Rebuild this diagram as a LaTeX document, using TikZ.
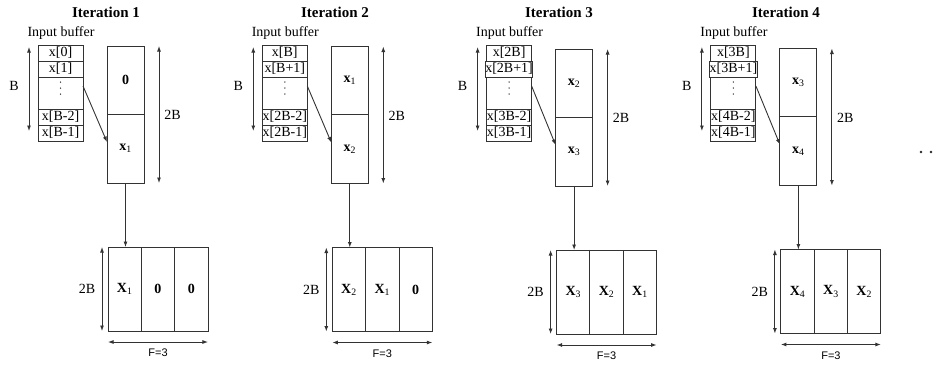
\documentclass[tikz,border=0pt]{standalone}
\usepackage{fontspec}
\setmainfont{Liberation Serif}
\setsansfont{Liberation Sans}
\usetikzlibrary{arrows.meta,calc}
\newcommand{\bxsub}[1]{\textbf{x}\textsubscript{#1}}
\newcommand{\bXsub}[1]{\textbf{X}\textsubscript{#1}}
\tikzset{
  ln/.style={draw=black!80, line width=0.9pt},
  tip/.style={-{Latex[length=5.5pt,width=4pt]}},
  dim/.style={{Latex[length=5.5pt,width=4pt]}-{Latex[length=5.5pt,width=4pt]}, draw=black!80, line width=0.9pt},
  lbl/.style={font=\fontsize{14}{16}\selectfont, inner sep=0pt},
  ttl/.style={font=\fontsize{15}{17}\selectfont\bfseries, inner sep=0pt},
  fl/.style={font=\sffamily\fontsize{11}{13}\selectfont, inner sep=0pt},
  cell/.style={ln, rectangle, minimum width=45pt, minimum height=16pt, inner sep=0pt, outer sep=0pt, anchor=north, font=\fontsize{14}{16}\selectfont},
  half/.style={ln, rectangle, minimum width=37pt, inner sep=0pt, outer sep=0pt, anchor=north, font=\fontsize{14}{16}\selectfont},
  col/.style={ln, rectangle, minimum width=33.33pt, minimum height=84pt, inner sep=0pt, outer sep=0pt, anchor=north west, font=\fontsize{14}{16}\selectfont},
  vdot/.style={fill=black!80},
}
\begin{document}
\begin{tikzpicture}[x=1pt,y=-1pt]
\useasboundingbox (0,0) rectangle (939,364);
\foreach \i/\ox/\dy/\tx/\ra/\rb/\rc/\rd/\ta/\tb/\ca/\cb/\cc in {
  1/107/0/106/{x[0]}/{x[1]}/{x[B-2]}/{x[B-1]}/{\textbf{0}}/{\bxsub{1}}/{\bXsub{1}}/{\textbf{0}}/{\textbf{0}},
  2/331.3/0.5/335/{x[B]}/{x[B+1]}/{x[2B-2]}/{x[2B-1]}/{\bxsub{1}}/{\bxsub{2}}/{\bXsub{2}}/{\bXsub{1}}/{\textbf{0}},
  3/555.6/3/559/{x[2B]}/{x[2B+1]}/{x[3B-2]}/{x[3B-1]}/{\bxsub{2}}/{\bxsub{3}}/{\bXsub{3}}/{\bXsub{2}}/{\bXsub{1}},
  4/779.9/2.5/786/{x[3B]}/{x[3B+1]}/{x[4B-2]}/{x[4B-1]}/{\bxsub{3}}/{\bxsub{4}}/{\bXsub{4}}/{\bXsub{3}}/{\bXsub{2}}}{
  % title and buffer label
  \node[ttl] (title\i) at (\tx,12) {Iteration \i};
  \node[lbl] (inlab\i) at (\ox-46,33) {Input buffer};
  % input buffer
  \node[cell] (r1-\i) at (\ox-46.5,45) {\ra};
  \node[cell] (r2-\i) at (r1-\i.south) {\rb};
  \node[cell, minimum height=32pt] (r3-\i) at (r2-\i.south) {};
  \node[cell] (r4-\i) at (r3-\i.south) {\rc};
  \node[cell] (r5-\i) at (r4-\i.south) {\rd};
  \fill[vdot] ([yshift=11pt]r3-\i.center) circle (0.75)
              ([yshift=5pt]r3-\i.center) circle (0.75)
              ([yshift=-1pt]r3-\i.center) circle (0.75);
  % B dimension
  \coordinate (bt\i) at (\ox-78,47);
  \coordinate (bb\i) at (\ox-78,131);
  \draw[dim] (bt\i) -- (bb\i);
  \node[lbl] (blab\i) at (\ox-93,86) {B};
  % tall box
  \node[half, minimum height=68pt] (tt\i) at (\ox+18.5,46+\dy) {\ta};
  \node[half, minimum height=69pt] (tb\i) at (tt\i.south) {\tb};
  \draw[dim] ([xshift=15pt]tt\i.north east) -- ([xshift=15pt]tb\i.south east);
  \node[lbl] (tlab\i) at (\ox+65.5,115+\dy) {2B};
  % arrow buffer -> tall box
  \draw[ln,tip] ([yshift=7pt]r3-\i.east) -- ([yshift=6.5pt]tb\i.west);
  % big box
  \node[col] (c1-\i) at (\ox+1,247+\dy) {\ca};
  \node[col] (c2-\i) at (c1-\i.north east) {\cb};
  \node[col] (c3-\i) at (c2-\i.north east) {\cc};
  \draw[ln,tip] (tb\i.south) -- (tb\i.south |- c1-\i.north);
  \draw[dim] ([xshift=-6pt]c1-\i.north west) -- ([xshift=-6pt]c1-\i.south west);
  \node[lbl] (llab\i) at (\ox-20,289+\dy) {2B};
  \draw[dim] ([yshift=-11pt]c1-\i.south west) -- ([yshift=-11pt]c3-\i.south east);
  \node[fl] (flab\i) at (\ox+51,353+\dy) {F=3};
}
\fill[black!85] (921,152) circle (1.3) (931,152) circle (1.3);
\end{tikzpicture}
\end{document}
